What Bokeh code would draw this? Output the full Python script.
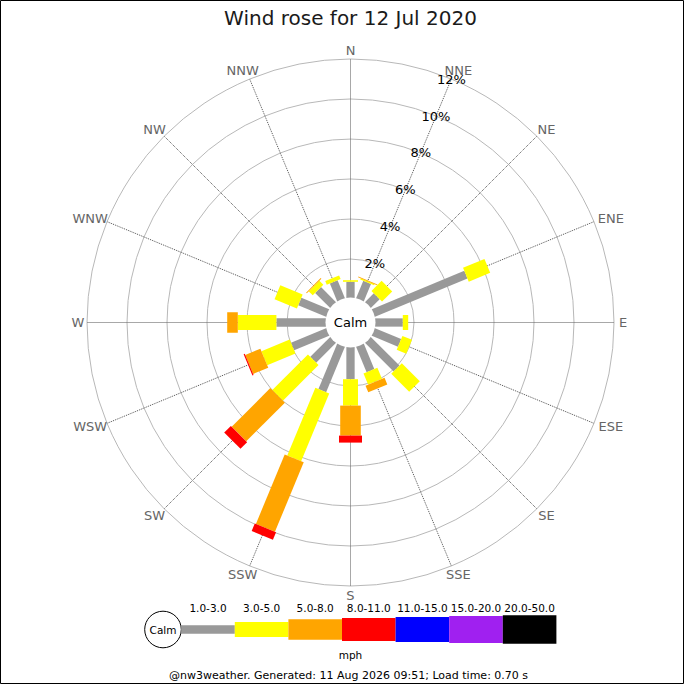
import numpy as np
from bokeh.plotting import figure
from bokeh.models import Range1d
from bokeh.core.properties import value
from bokeh.embed import file_html
from bokeh.resources import INLINE

# ---------------- data ----------------
title = "Wind rose for 12 Jul 2020"
directions = ["N", "NNE", "NE", "ENE", "E", "ESE", "SE", "SSE",
              "S", "SSW", "SW", "WSW", "W", "WNW", "NW", "NNW"]
speed_bins = ["1.0-3.0", "3.0-5.0", "5.0-8.0", "8.0-11.0",
              "11.0-15.0", "15.0-20.0", "20.0-50.0"]
# percentage of time per direction for each speed band (mph)
pct_1_3 = [0.86, 1.00, 0.68, 5.07, 1.44, 1.48, 2.08, 1.43,
           1.66, 2.51, 1.46, 1.96, 2.53, 1.57, 1.12, 1.02]
pct_3_5 = [0.08, 0.06, 0.72, 1.16, 0.27, 0.52, 1.27, 0.60,
           1.32, 3.67, 2.52, 1.53, 1.93, 1.21, 0.28, 0.20]
pct_5_8 = [0.00, 0.04, 0.00, 0.00, 0.00, 0.00, 0.00, 0.36,
           1.50, 3.76, 2.73, 0.82, 0.53, 0.00, 0.05, 0.00]
pct_8_11 = [0.00, 0.00, 0.00, 0.00, 0.00, 0.00, 0.00, 0.00,
            0.35, 0.41, 0.47, 0.06, 0.00, 0.00, 0.00, 0.00]
pct_11_15 = [0.0] * 16
pct_15_20 = [0.0] * 16
pct_20_50 = [0.0] * 16
ring_ticks = [2, 4, 6, 8, 10, 12]
ring_labels = ["2%", "4%", "6%", "8%", "10%", "12%"]
units_label = "mph"
calm_label = "Calm"
footer = "@nw3weather. Generated: 11 Aug 2026 09:51; Load time: 0.70 s"

# ---------------- style ----------------
colors = ["#999999", "#ffff00", "#ffa500", "#ff0000", "#0000ff", "#a020f0", "#000000"]
thick = [8.3, 15, 20.6, 23, 25, 27, 28.7]       # bar thickness, screen px
FONT = value("DejaVu Sans")
PX = 20.0                  # screen px per 1 %
HOLE = 23.5 / PX           # radial offset of 0 %
CX, CY = 350.0, 322.0      # rose centre in page pixels
W = H = 684


def page(xp, yp):
    """page-pixel position -> data coordinates"""
    return (xp - CX) / PX, (CY - yp) / PX


p = figure(width=W, height=H,
           x_range=Range1d((0 - CX) / PX, (W - CX) / PX),
           y_range=Range1d((CY - H) / PX, (CY - 0) / PX),
           output_backend="svg", toolbar_location=None, min_border=0,
           x_axis_type=None, y_axis_type=None,
           outline_line_color="black", outline_line_width=1,
           background_fill_color="white", border_fill_color="white")
for g in p.grid:
    g.visible = False

theta = np.radians(np.arange(16) * 22.5)          # compass angle
ang = np.pi / 2 - theta                            # math angle
r_out = HOLE + ring_ticks[-1]

# rings
p.circle(x=[0] * len(ring_ticks), y=[0] * len(ring_ticks),
         radius=[HOLE + t for t in ring_ticks],
         fill_color=None, line_color="#b8b8b8", line_width=1)
# spokes
p.segment(x0=[0] * 16, y0=[0] * 16,
          x1=list(r_out * np.cos(ang)), y1=list(r_out * np.sin(ang)),
          line_color="#505050", line_width=1, line_dash="1 1")

# bars
series = [pct_1_3, pct_3_5, pct_5_8, pct_8_11, pct_11_15, pct_15_20, pct_20_50]
cum = np.zeros(16)
for k, s in enumerate(series):
    s = np.array(s, dtype=float)
    rs = HOLE + cum
    re = HOLE + cum + s
    m = s > 0
    rc = (rs + re) / 2
    if m.any():
        p.rect(x=list((rc * np.cos(ang))[m]), y=list((rc * np.sin(ang))[m]),
               width=list((re - rs)[m]), height=thick[k], height_units="screen",
               angle=list(ang[m]), fill_color=colors[k], line_color=None)
    cum = cum + s

# calm circle
p.circle(x=[0], y=[0], radius=25 / PX, fill_color="white", line_color=None)
p.text(x=[0], y=[0], text=[calm_label], text_align="center", text_baseline="middle",
       text_font=FONT, text_font_size="13px", text_color="black")

# ring labels along NNE
a_lab = np.pi / 2 - np.radians(22.5)
rr = np.array([HOLE + t for t in ring_ticks])
p.text(x=list(rr * np.cos(a_lab)), y=list(rr * np.sin(a_lab)), text=ring_labels,
       text_align="center", text_baseline="middle",
       text_font=FONT, text_font_size="13px", text_color="black")

# direction labels
R_lab = 268 / PX
lx, ly = [], []
for d, t in zip(directions, theta):
    hw = len(d) * 4.6 / PX
    hh = 4.5 / PX
    lx.append(R_lab * np.sin(t) + hw * np.sin(t))
    ly.append(R_lab * np.cos(t) + hh * np.cos(t))
p.text(x=lx, y=ly, text=directions, text_align="center", text_baseline="middle",
       text_font=FONT, text_font_size="13px", text_color="#666666")

# title
tx, ty = page(350, 17.5)
p.text(x=[tx], y=[ty], text=[title], text_align="center", text_baseline="middle",
       text_font=FONT, text_font_size="20px", text_color="#1a1a1a")

# legend
lcx, lcy = page(162.5, 629)
p.circle(x=[lcx], y=[lcy], radius=18.3 / PX, fill_color="white",
         line_color="black", line_width=1)
p.text(x=[lcx], y=[lcy], text=[calm_label], text_align="center", text_baseline="middle",
       text_font=FONT, text_font_size="10.5px", text_color="black")
seg_w = 53.6
x0 = 180.7
for k, lab in enumerate(speed_bins):
    sx, sy = page(x0 + seg_w * (k + 0.5), 629)
    p.rect(x=[sx], y=[sy], width=seg_w / PX, height=thick[k], height_units="screen",
           fill_color=colors[k], line_color=None)
    tx, ty = page(x0 + seg_w * (k + 0.5), 607)
    p.text(x=[tx], y=[ty], text=[lab], text_align="center", text_baseline="middle",
           text_font=FONT, text_font_size="10.5px", text_color="black")
ux, uy = page(350, 654)
p.text(x=[ux], y=[uy], text=[units_label], text_align="center", text_baseline="middle",
       text_font=FONT, text_font_size="10.5px", text_color="black")

# footer
fx, fy = page(348, 675)
p.text(x=[fx], y=[fy], text=[footer], text_align="center", text_baseline="middle",
       text_font=FONT, text_font_size="11px", text_color="black")

open("out.html", "w").write(file_html(p, INLINE))
